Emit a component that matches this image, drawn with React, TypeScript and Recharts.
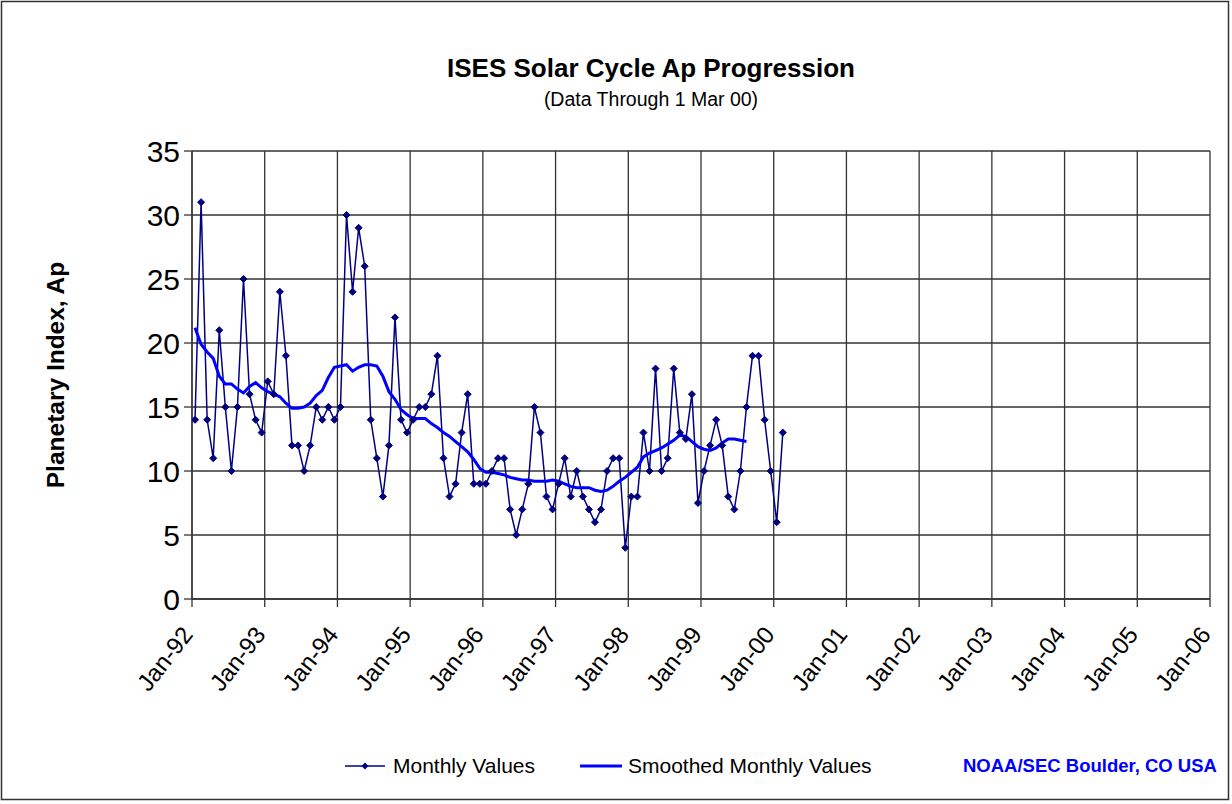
import React from 'react';
import { LineChart, Line, XAxis, YAxis, CartesianGrid } from 'recharts';

// Monthly Ap, Jan-92 .. Feb-00
const monthlyAp = [
  14, 31, 14, 11, 21, 15, 10, 15, 25, 16, 14, 13,
  17, 16, 24, 19, 12, 12, 10, 12, 15, 14, 15, 14,
  15, 30, 24, 29, 26, 14, 11, 8, 12, 22, 14, 13,
  14, 15, 15, 16, 19, 11, 8, 9, 13, 16, 9, 9,
  9, 10, 11, 11, 7, 5, 7, 9, 15, 13, 8, 7,
  9, 11, 8, 10, 8, 7, 6, 7, 10, 11, 11, 4,
  8, 8, 13, 10, 18, 10, 11, 18, 13, 12.5, 16, 7.5,
  10, 12, 14, 12, 8, 7, 10, 15, 19, 19, 14, 10,
  6, 13,
];

// Smoothed monthly Ap, Jan-92 .. Aug-99
const smoothedAp = [
  21.2, 19.9, 19.3, 18.8, 17.4, 16.8, 16.8, 16.4, 16.1, 16.6, 16.9, 16.5,
  16.2, 16.0, 15.8, 15.3, 14.9, 14.9, 15.0, 15.3, 15.9, 16.3, 17.3, 18.1,
  18.2, 18.3, 17.8, 18.1, 18.3, 18.3, 18.2, 17.4, 16.2, 15.6, 14.8, 14.4,
  14.1, 14.1, 14.1, 13.7, 13.4, 13.0, 12.7, 12.3, 11.9, 11.5, 10.9, 10.2,
  9.9, 9.9, 9.8, 9.7, 9.5, 9.4, 9.3, 9.3, 9.2, 9.2, 9.2, 9.3,
  9.2, 9.0, 8.8, 8.7, 8.7, 8.7, 8.5, 8.4, 8.5, 8.8, 9.2, 9.5,
  9.9, 10.3, 11.1, 11.4, 11.6, 11.8, 12.1, 12.4, 12.8, 12.7, 12.3, 11.9,
  11.7, 11.6, 11.8, 12.2, 12.5, 12.5, 12.4, 12.3,
];

const xTickLabels = [
  'Jan-92', 'Jan-93', 'Jan-94', 'Jan-95', 'Jan-96', 'Jan-97', 'Jan-98', 'Jan-99',
  'Jan-00', 'Jan-01', 'Jan-02', 'Jan-03', 'Jan-04', 'Jan-05', 'Jan-06',
];
const yTicks = [0, 5, 10, 15, 20, 25, 30, 35];

const W = 1232;
const H = 804;
const FONT = 'Arial, "Liberation Sans", sans-serif';

// x is months since Jan-92, points sit mid-month
const monthlyData = monthlyAp.map((ap, i) => ({ t: i + 0.5, ap }));
const smoothedData = smoothedAp.map((ap, i) => ({ t: i + 0.5, ap }));
const xTicks = xTickLabels.map((_, i) => i * 12);

const XTick = (props: any) => {
  const { x, y, payload } = props;
  const label = xTickLabels[Math.round(payload.value / 12)];
  const ax = x + 2;
  const ay = y + 26;
  return (
    <text
      x={ax}
      y={ay}
      transform={`rotate(-52, ${ax}, ${ay})`}
      textAnchor="end"
      fontSize={24}
      fontFamily={FONT}
      fill="#000"
    >
      {label}
    </text>
  );
};

const YTick = (props: any) => {
  const { x, y, payload } = props;
  return (
    <text x={x - 2} y={y} dy={11} textAnchor="end" fontSize={30} fontFamily={FONT} fill="#000">
      {payload.value}
    </text>
  );
};

const Diamond = (props: any) => {
  const { cx, cy, index } = props;
  if (cx == null || cy == null) return <g key={index} />;
  const s = 3.5;
  return (
    <path
      key={index}
      d={`M${cx},${cy - s}L${cx + s},${cy}L${cx},${cy + s}L${cx - s},${cy}Z`}
      fill="#000080"
      stroke="#000080"
      strokeWidth={1}
    />
  );
};

export default function App() {
  return (
    <div style={{ position: 'fixed', left: 0, top: 0, width: W, height: H, background: '#fff' }}>
      <LineChart
        width={W}
        height={H}
        margin={{ top: 151, right: 22, left: 0, bottom: 0 }}
        style={{ position: 'absolute', left: 0, top: 0 }}
      >
        <CartesianGrid stroke="#333" strokeWidth={1.3} />
        <XAxis
          type="number"
          dataKey="t"
          domain={[0, 168]}
          ticks={xTicks}
          interval={0}
          height={205}
          tickSize={8}
          tick={<XTick />}
          axisLine={{ stroke: '#333', strokeWidth: 1.3 }}
          tickLine={{ stroke: '#333', strokeWidth: 1.3 }}
          allowDataOverflow
        />
        <YAxis
          type="number"
          domain={[0, 35]}
          ticks={yTicks}
          interval={0}
          width={192}
          tickSize={8}
          tick={<YTick />}
          axisLine={{ stroke: '#333', strokeWidth: 1.3 }}
          tickLine={{ stroke: '#333', strokeWidth: 1.3 }}
          allowDataOverflow
        />
        <Line
          data={monthlyData}
          dataKey="ap"
          type="linear"
          stroke="#000080"
          strokeWidth={1.5}
          dot={Diamond}
          activeDot={false}
          isAnimationActive={false}
        />
        <Line
          data={smoothedData}
          dataKey="ap"
          type="linear"
          stroke="#0000FF"
          strokeWidth={3}
          dot={false}
          activeDot={false}
          isAnimationActive={false}
        />
      </LineChart>
      <svg
        width={W}
        height={H}
        style={{ position: 'absolute', left: 0, top: 0, pointerEvents: 'none' }}
        fontFamily={FONT}
      >
        <rect x={1.5} y={1.5} width={1227} height={798} fill="none" stroke="#333" strokeWidth={1.5} />
        <text x={651} y={77} textAnchor="middle" fontSize={26} fontWeight="bold">
          ISES Solar Cycle Ap Progression
        </text>
        <text x={651} y={106} textAnchor="middle" fontSize={19.5}>
          (Data Through 1 Mar 00)
        </text>
        <text transform="translate(64,375) rotate(-90)" textAnchor="middle" fontSize={24.5} fontWeight="bold">
          Planetary Index, Ap
        </text>
        <line x1={345} y1={766} x2={385} y2={766} stroke="#000080" strokeWidth={1.5} />
        <path d="M365,762.5L368.5,766L365,769.5L361.5,766Z" fill="#000080" />
        <text x={393} y={773} fontSize={21} fill="#000">
          Monthly Values
        </text>
        <line x1={580} y1={766} x2={622} y2={766} stroke="#0000FF" strokeWidth={3} />
        <text x={628} y={773} fontSize={21} fill="#000">
          Smoothed Monthly Values
        </text>
        <text x={963} y={772} fontSize={18.5} fontWeight="bold" fill="#0000FF">
          NOAA/SEC Boulder, CO USA
        </text>
      </svg>
    </div>
  );
}
